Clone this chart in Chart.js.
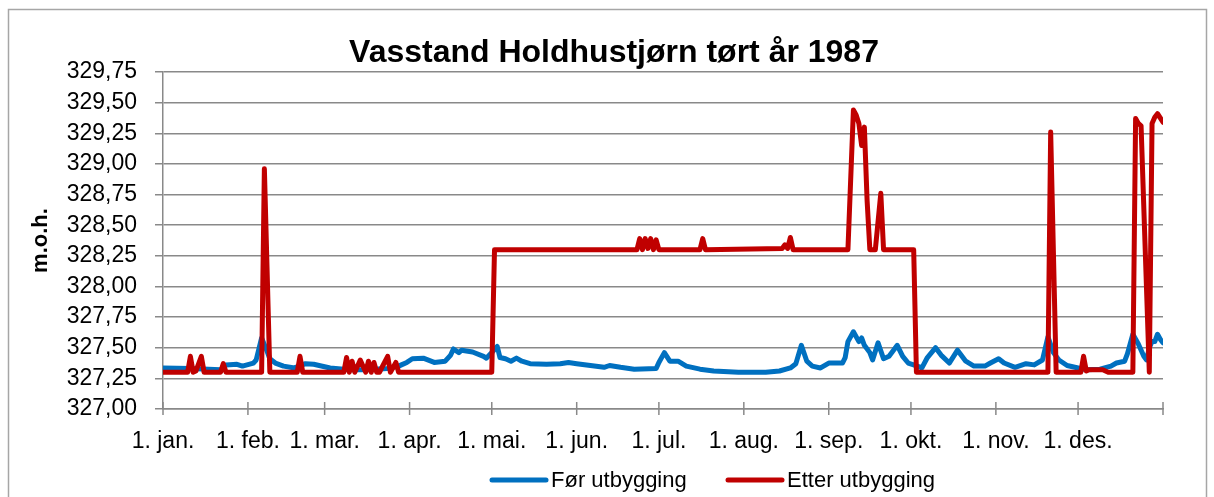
<!DOCTYPE html>
<html>
<head>
<meta charset="utf-8">
<style>
  html, body { margin: 0; padding: 0; background: #fff; }
  #wrap { width: 1214px; height: 497px; }
</style>
</head>
<body>
<div id="wrap"><canvas id="chart" width="1214" height="497"></canvas></div>
<script src="https://cdn.jsdelivr.net/npm/chart.js@4.4.0/dist/chart.umd.min.js"></script>
<script>
'use strict';

// day of year (0 = 1. jan.) and water level
const beforeDays = [0, 10, 21, 23, 27, 29, 33, 34, 36, 38, 39, 41, 44, 48, 52, 55, 61, 68, 74, 82,
  86, 87, 89, 91, 95, 99, 103, 105, 106, 108, 109, 113, 117, 118, 120, 122, 123, 125, 127, 129,
  131, 134, 140, 145, 148, 151, 156, 161, 163, 167, 172, 180, 181, 183, 185, 188, 191, 196, 201, 210,
  220, 225, 229, 231, 233, 235, 237, 240, 243, 248, 249, 250, 252, 254, 255, 256, 258, 259, 261, 263,
  265, 268, 270, 272, 274, 277, 279, 282, 284, 287, 290, 293, 296, 300, 302, 305, 307, 311, 315, 318,
  321, 323, 325, 327, 330, 334, 337, 342, 346, 348, 351, 352, 354, 356, 358, 359, 360, 361, 362, 363,
  364, 365];
const beforeLevels = [327.335, 327.33, 327.32, 327.36, 327.365, 327.35, 327.375, 327.40, 327.58, 327.47,
  327.41, 327.375, 327.35, 327.335, 327.37, 327.365, 327.335, 327.32, 327.32, 327.33,
  327.35, 327.36, 327.38, 327.41, 327.415, 327.38, 327.39, 327.44, 327.49, 327.46,
  327.48, 327.465, 327.43, 327.415, 327.46, 327.51, 327.42, 327.41, 327.39, 327.415,
  327.39, 327.37, 327.365, 327.37, 327.38, 327.37, 327.355, 327.34, 327.355, 327.34,
  327.325, 327.33, 327.38, 327.46, 327.39, 327.39, 327.35, 327.325, 327.31, 327.30,
  327.30, 327.31, 327.335, 327.37, 327.52, 327.39, 327.35, 327.335, 327.375, 327.375,
  327.42, 327.55, 327.63, 327.55, 327.58, 327.52, 327.46, 327.40, 327.54, 327.41,
  327.43, 327.52, 327.43, 327.375, 327.36, 327.335, 327.42, 327.50, 327.44, 327.375,
  327.48, 327.39, 327.35, 327.35, 327.375, 327.41, 327.375, 327.34, 327.37, 327.36,
  327.40, 327.59, 327.46, 327.40, 327.355, 327.335, 327.32, 327.325, 327.35, 327.375,
  327.39, 327.45, 327.61, 327.53, 327.43, 327.40, 327.50, 327.55, 327.55, 327.61,
  327.57, 327.54];

const afterDays = [0, 9, 10, 11, 12, 14, 15, 21, 22, 23, 36, 37, 39, 49, 50, 51, 66, 67, 68, 69,
  70, 72, 74, 75, 76, 77, 78, 79, 82, 83, 85, 86, 120, 121, 173, 174, 175, 176, 177, 178,
  179, 180, 181, 196, 197, 198, 226, 227, 228, 229, 230, 250, 252, 253, 254, 255, 256, 257, 258, 260,
  262, 263, 274, 275, 323, 324, 326, 335, 336, 337, 338, 343, 345, 354, 355, 356, 357, 360, 361, 362,
  363, 365];
const afterLevels = [327.30, 327.30, 327.43, 327.30, 327.31, 327.43, 327.30, 327.30, 327.37, 327.30,
  327.30, 328.96, 327.30, 327.30, 327.43, 327.30, 327.30, 327.42, 327.30, 327.39,
  327.30, 327.40, 327.30, 327.39, 327.30, 327.38, 327.30, 327.30, 327.43, 327.30,
  327.38, 327.30, 327.30, 328.30, 328.30, 328.39, 328.30, 328.39, 328.31, 328.39,
  328.30, 328.38, 328.30, 328.30, 328.39, 328.30, 328.31, 328.34, 328.31, 328.40,
  328.30, 328.30, 329.44, 329.40, 329.33, 329.15, 329.30, 328.70, 328.30, 328.30,
  328.76, 328.30, 328.30, 327.30, 327.30, 329.26, 327.30, 327.30, 327.43, 327.31,
  327.32, 327.32, 327.30, 327.30, 329.37, 329.33, 329.31, 327.30, 329.33, 329.38,
  329.41, 329.34];

const monthStarts = [0, 31, 59, 90, 120, 151, 181, 212, 243, 273, 304, 334, 365];
const monthLabels = ['1. jan.', '1. feb.', '1. mar.', '1. apr.', '1. mai.', '1. jun.',
  '1. jul.', '1. aug.', '1. sep.', '1. okt.', '1. nov.', '1. des.', ''];
const levelTicks = [327.00, 327.25, 327.50, 327.75, 328.00, 328.25, 328.50, 328.75,
  329.00, 329.25, 329.50, 329.75];

const family = '"Liberation Sans", Arial, sans-serif';
const gridColor = '#898989';

Chart.defaults.font.family = family;
Chart.defaults.color = '#000';

const frame = {
  id: 'frame',
  beforeDraw(chart) {
    const ctx = chart.ctx;
    ctx.save();
    ctx.strokeStyle = '#a6a6a6';
    ctx.lineWidth = 1.5;
    ctx.strokeRect(8.5, 9.5, 1198, 540);
    ctx.restore();
  }
};

const crossTicks = {
  id: 'crossTicks',
  beforeDatasetsDraw(chart) {
    const xs = chart.scales.x;
    const y0 = chart.chartArea.bottom;
    const ctx = chart.ctx;
    ctx.save();
    ctx.strokeStyle = gridColor;
    ctx.lineWidth = 1.5;
    xs.ticks.forEach(t => {
      const px = xs.getPixelForValue(t.value);
      ctx.beginPath();
      ctx.moveTo(px, y0 - 7);
      ctx.lineTo(px, y0 + 6);
      ctx.stroke();
    });
    ctx.restore();
  }
};

const lineLegend = {
  id: 'lineLegend',
  afterDraw(chart) {
    const ctx = chart.ctx;
    const starts = [492, 728];
    const y = 480;
    ctx.save();
    ctx.font = '22px ' + family;
    ctx.textBaseline = 'middle';
    chart.data.datasets.forEach((ds, i) => {
      ctx.strokeStyle = ds.borderColor;
      ctx.lineWidth = 5;
      ctx.lineCap = 'round';
      ctx.beginPath();
      ctx.moveTo(starts[i], y);
      ctx.lineTo(starts[i] + 54, y);
      ctx.stroke();
      ctx.fillStyle = '#000';
      ctx.fillText(ds.label, starts[i] + 59, y + 1);
    });
    ctx.restore();
  }
};

function toPoints(days, levels) {
  return days.map((d, i) => ({x: d, y: levels[i]}));
}

let data = {
  datasets: [
    {
      label: 'Før utbygging',
      data: toPoints(beforeDays, beforeLevels),
      borderColor: '#0070C0',
      borderWidth: 5,
      order: 1,
    },
    {
      label: 'Etter utbygging',
      data: toPoints(afterDays, afterLevels),
      borderColor: '#C00000',
      borderWidth: 5,
      order: 0,
    },
  ],
};

let config = {
  type: 'line',
  data: data,
  options: {
    responsive: false,
    animation: false,
    devicePixelRatio: 1,
    parsing: false,
    elements: {
      point: { radius: 0 },
      line: { tension: 0, borderJoinStyle: 'round', borderCapStyle: 'round' },
    },
    layout: { padding: { left: 14, right: 0, top: 0, bottom: 41 } },
    plugins: {
      legend: { display: false },
      tooltip: { enabled: false },
      title: {
        display: true,
        text: 'Vasstand Holdhustjørn tørt år 1987',
        color: '#000',
        font: { size: 32, weight: 'bold', lineHeight: 1 },
        padding: { top: 37, bottom: 3 },
      },
    },
    scales: {
      x: {
        type: 'linear',
        min: 0,
        max: 365,
        afterBuildTicks(s) { s.ticks = monthStarts.map(v => ({value: v})); },
        afterFit(s) { s.height = 47; },
        grid: { display: false, drawTicks: false },
        border: { display: true, color: gridColor, width: 1.5 },
        ticks: {
          autoSkip: false,
          maxRotation: 0,
          padding: 19,
          color: '#000',
          font: { size: 23 },
          callback: (v, i) => monthLabels[i],
        },
      },
      y: {
        min: 327,
        max: 329.75,
        afterBuildTicks(s) { s.ticks = levelTicks.map(v => ({value: v})); },
        afterFit(s) { s.width = 149; },
        grid: { color: gridColor, lineWidth: 1.5, tickLength: 8 },
        border: { color: gridColor, width: 1.5 },
        ticks: {
          padding: 18,
          color: '#000',
          font: { size: 23 },
          callback: v => v.toFixed(2).replace('.', ','),
        },
        title: {
          display: true,
          text: 'm.o.h.',
          color: '#000',
          font: { size: 22, weight: 'bold' },
          padding: { top: 14, bottom: 0 },
        },
      },
      rightGap: {
        type: 'linear',
        position: 'right',
        grid: { display: false, drawTicks: false },
        border: { display: false },
        ticks: { display: false },
        afterFit(s) { s.width = 51; },
      },
    },
  },
  plugins: [frame, crossTicks, lineLegend],
};

new Chart(document.getElementById('chart'), config);
</script>
</body>
</html>
